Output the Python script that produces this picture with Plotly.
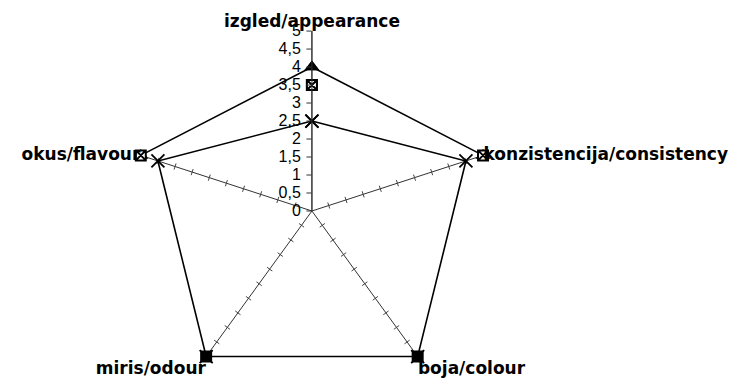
import numpy as np
import plotly.graph_objects as go

categories = ["izgled/appearance", "konzistencija/consistency", "boja/colour",
              "miris/odour", "okus/flavour"]
series_triangle = [4, 5, None, None, 5]
series_box = [3.5, 5, 5, 5, 5]
series_cross = [2.5, 4.5, 5, 5, 4.5]
radial_ticks = [0, 0.5, 1, 1.5, 2, 2.5, 3, 3.5, 4, 4.5, 5]

step = 360 / len(categories)
theta = [i * step for i in range(len(categories))]


def closed(vals):
    return list(vals) + [vals[0]], theta + [theta[0]]


fig = go.Figure()

# small tick marks along the spokes (not the vertical one, which is the radial axis)
tr, tt = [], []
for th in theta[1:]:
    for r in radial_ticks[1:]:
        d = np.degrees(np.arctan(0.09 / r))
        tr += [r, r, None]
        tt += [th - d, th + d, None]
fig.add_trace(go.Scatterpolar(r=tr, theta=tt, mode="lines",
                              line=dict(color="#444", width=1),
                              hoverinfo="skip", showlegend=False))

# where the box markers sit on top of crosses they print as solid squares
box_fill = ["white" if b != c else "black" for b, c in zip(series_box, series_cross)]
box_fill.append(box_fill[0])

styles = [
    (series_triangle, "lines+markers",
     dict(symbol="triangle-up", size=13, color="black")),
    (series_cross, "lines+markers",
     dict(symbol="x-thin-open", size=13, color="black",
          line=dict(width=1.8, color="black"))),
    (series_box, "markers",
     dict(symbol="square-x", size=10, color=box_fill,
          line=dict(width=2, color="black"))),
]
for vals, mode, mk in styles:
    r, th = closed(vals)
    fig.add_trace(go.Scatterpolar(r=r, theta=th, mode=mode,
                                  line=dict(color="black", width=1.6),
                                  marker=mk, showlegend=False))


def fmt(v):
    return str(int(v)) if v == int(v) else str(v).replace(".", ",")


fig.update_layout(
    width=756, height=383,
    margin=dict(l=0, r=0, t=0, b=0),
    paper_bgcolor="white",
    polar=dict(
        domain=dict(x=[0.164, 0.64], y=[0.0, 0.94]),
        bgcolor="white",
        gridshape="linear",
        angularaxis=dict(
            rotation=90, direction="clockwise", thetaunit="degrees",
            tickmode="array", tickvals=theta, ticktext=categories,
            showline=False, showgrid=True, gridcolor="#333", gridwidth=1,
            ticks="",
            tickfont=dict(family="DejaVu Sans", size=17,
                          color="black", weight="bold"),
        ),
        radialaxis=dict(
            range=[0, 5], angle=90, tickangle=90,
            tickmode="array", tickvals=radial_ticks,
            ticktext=[fmt(v) for v in radial_ticks],
            side="counterclockwise",
            showline=True, linecolor="#333", linewidth=1,
            ticks="outside", ticklen=5, tickcolor="#333",
            showgrid=False,
            tickfont=dict(family="Liberation Sans, Arial", size=16, color="black"),
        ),
    ),
)

fig.write_html("out.html")
